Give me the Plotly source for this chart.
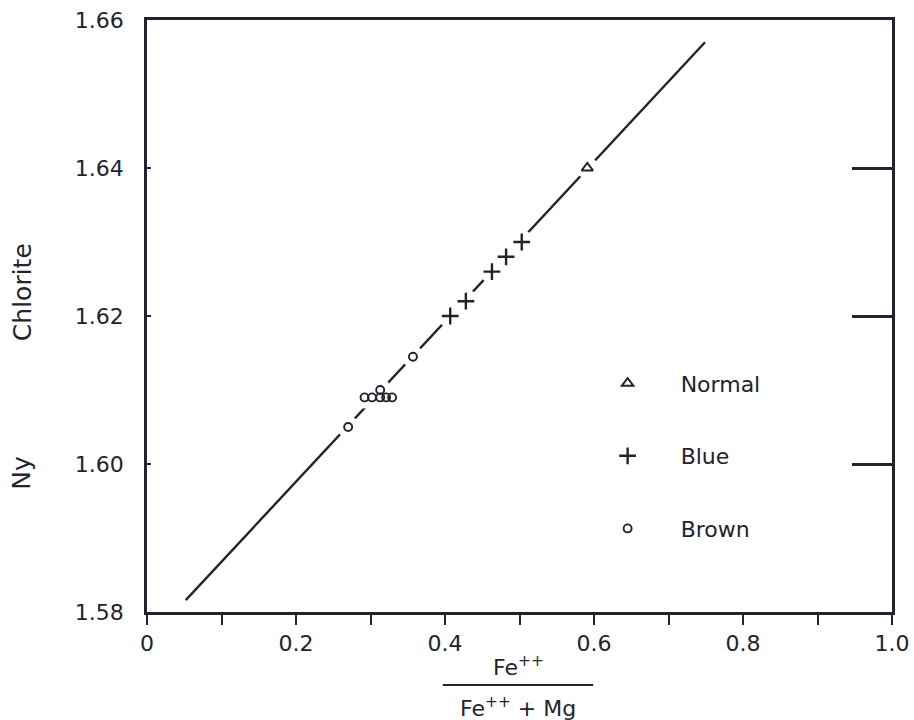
import plotly.graph_objects as go

# ---- data ----
normal_x = [0.591]
normal_y = [1.640]

blue_x = [0.407, 0.428, 0.463, 0.482, 0.503]
blue_y = [1.620, 1.622, 1.626, 1.628, 1.630]

brown_x = [0.270, 0.292, 0.302, 0.313, 0.313, 0.321, 0.329, 0.357]
brown_y = [1.605, 1.609, 1.609, 1.610, 1.609, 1.609, 1.609, 1.6145]

fit_x = [0.052, 0.749]
fit_y = [1.5816, 1.657]

x_ticks = [0, 0.2, 0.4, 0.6, 0.8, 1.0]
x_ticktext = ["0", "0.2", "0.4", "0.6", "0.8", "1.0"]
y_ticks = [1.58, 1.60, 1.62, 1.64, 1.66]
y_ticktext = ["1.58", "1.60", "1.62", "1.64", "1.66"]

INK = "#23232f"
FONT = "DejaVu Sans"

fig = go.Figure()

# regression line
fig.add_trace(go.Scatter(x=fit_x, y=fit_y, mode="lines",
                         line=dict(color=INK, width=2.4), showlegend=False,
                         hoverinfo="skip"))

# white halos that break the line around the symbols
for hx, hy, hs in [(normal_x, normal_y, 22), (blue_x, blue_y, 24), (brown_x, brown_y, 22)]:
    fig.add_trace(go.Scatter(x=hx, y=hy, mode="markers",
                             marker=dict(symbol="circle", size=hs, color="white",
                                         line=dict(width=0)),
                             showlegend=False, hoverinfo="skip"))

fig.add_trace(go.Scatter(x=normal_x, y=normal_y, mode="markers", name="Normal",
                         legendgroup="n",
                         marker=dict(symbol="triangle-up-open", size=10,
                                     color=INK, line=dict(width=2, color=INK))))
fig.add_trace(go.Scatter(x=blue_x, y=blue_y, mode="markers", name="Blue",
                         legendgroup="b",
                         marker=dict(symbol="cross-thin-open", size=12,
                                     color=INK, line=dict(width=2.4, color=INK))))
fig.add_trace(go.Scatter(x=brown_x, y=brown_y, mode="markers", name="Brown",
                         legendgroup="r",
                         marker=dict(symbol="circle-open", size=8,
                                     color=INK, line=dict(width=1.9, color=INK))))

fig.update_layout(
    width=914, height=720,
    margin=dict(l=147, r=22, t=20, b=108),
    paper_bgcolor="white", plot_bgcolor="white",
    font=dict(family=FONT, size=22, color=INK),
    legend=dict(x=0.574, y=0.4216, xanchor="left", yanchor="top",
                bgcolor="rgba(0,0,0,0)", tracegroupgap=41,
                itemwidth=96, font=dict(family=FONT, size=22, color=INK)),
    xaxis=dict(range=[0, 1], tickvals=x_ticks, ticktext=x_ticktext,
               ticks="outside", ticklen=10, tickwidth=2, tickcolor=INK,
               minor=dict(dtick=0.1, tick0=0, ticks="outside", ticklen=10,
                          tickwidth=2, tickcolor=INK, showgrid=False),
               showline=True, linewidth=2.5, linecolor=INK, mirror=True,
               showgrid=False, zeroline=False, automargin=False,
               tickfont=dict(family=FONT, size=22, color=INK)),
    yaxis=dict(range=[1.58, 1.66], tickvals=y_ticks, ticktext=y_ticktext,
               ticks="inside", ticklen=4, tickwidth=2, tickcolor=INK,
               showline=True, linewidth=2.5, linecolor=INK, mirror=True,
               showgrid=False, zeroline=False, ticklabelstandoff=16,
               automargin=False,
               tickfont=dict(family=FONT, size=22, color=INK)),
    yaxis2=dict(range=[1.58, 1.66], overlaying="y", side="right",
                tickvals=y_ticks[1:4], showticklabels=False,
                ticks="inside", ticklen=40, tickwidth=2.5, tickcolor=INK,
                showgrid=False, zeroline=False, showline=False,
                automargin=False),
    annotations=[
        dict(text="Chlorite", x=-0.168, y=0.54, xref="paper", yref="paper",
             xanchor="center", yanchor="middle",
             textangle=-90, showarrow=False, font=dict(size=25)),
        dict(text="Ny", x=-0.168, y=0.235, xref="paper", yref="paper",
             xanchor="center", yanchor="middle",
             textangle=-90, showarrow=False, font=dict(size=25)),
        dict(text="Fe<sup>++</sup>", x=0.498, y=-0.092, xref="paper", yref="paper",
             xanchor="center", yanchor="middle",
             showarrow=False, font=dict(size=22)),
        dict(text="Fe<sup>++</sup> + Mg", x=0.498, y=-0.160, xref="paper", yref="paper",
             xanchor="center", yanchor="middle",
             showarrow=False, font=dict(size=22)),
    ],
    shapes=[dict(type="line", xref="paper", yref="paper",
                 x0=0.397, x1=0.599, y0=-0.1233, y1=-0.1233,
                 line=dict(color=INK, width=2))],
)

# empty trace so yaxis2 shows its ticks
fig.add_trace(go.Scatter(x=[None], y=[None], yaxis="y2", showlegend=False,
                         hoverinfo="skip"))

fig.write_html("out.html")
